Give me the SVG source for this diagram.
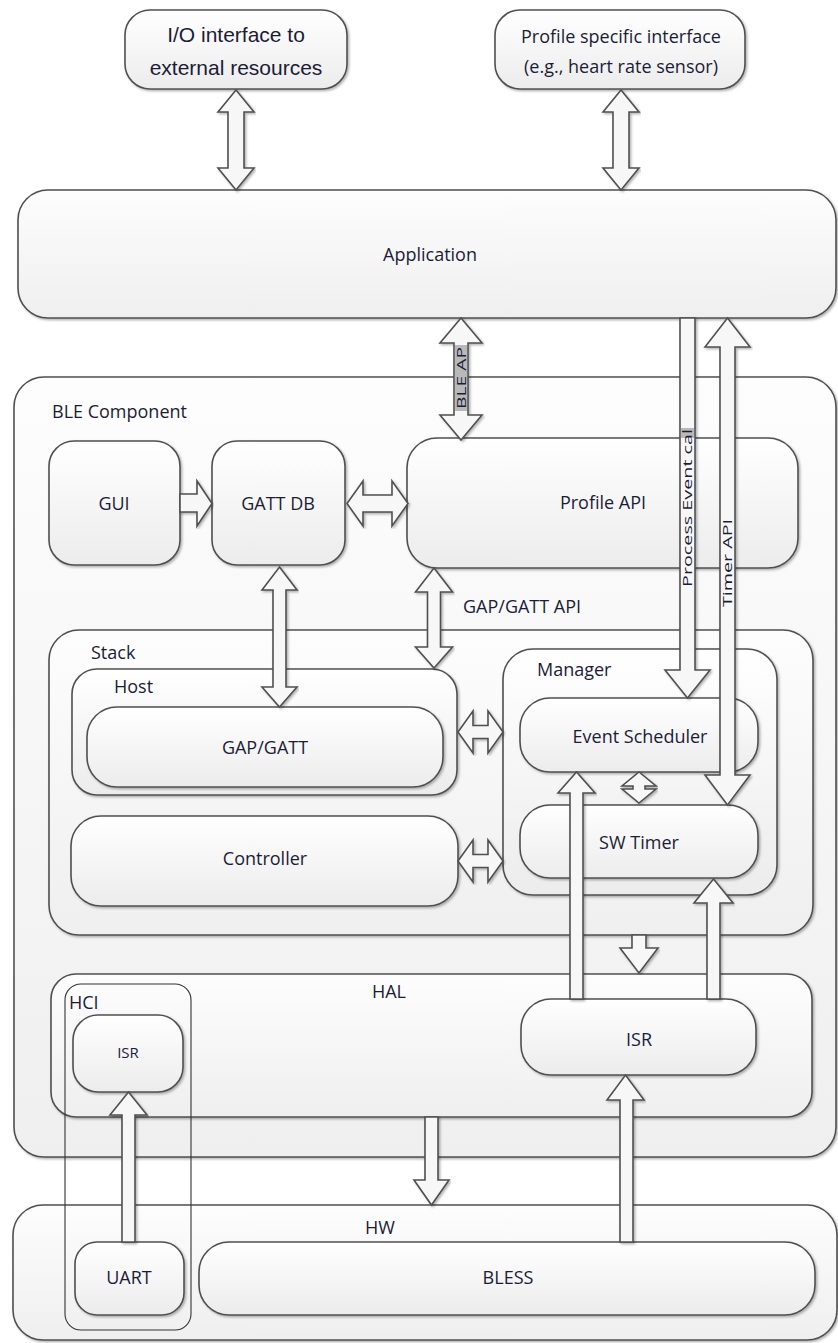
<svg xmlns="http://www.w3.org/2000/svg" width="838" height="1343" viewBox="0 0 838 1343">
<style>
.box{stroke:#505050;stroke-width:1.6;fill:url(#g1);filter:url(#sh)}
.big{stroke:#505050;stroke-width:1.6;fill:url(#g2);filter:url(#sh)}
.hci{fill:none;stroke:#333;stroke-width:1.1}
.arr{fill:#f7f7f7;stroke:#505050;stroke-width:1.6;stroke-linejoin:miter;filter:url(#sh)}
text{font-family:"Open Sans","Noto Sans",sans-serif;font-size:18px;fill:#1c1c38}
.c{text-anchor:middle}
.io{font-family:"Liberation Sans",Arial,sans-serif;font-size:21px}
.rot{font-size:12.5px}
</style>
<defs>
<linearGradient id="g1" x1="0" y1="0" x2="0" y2="1"><stop offset="0" stop-color="#ffffff"/><stop offset="1" stop-color="#ececec"/></linearGradient>
<linearGradient id="g2" x1="0" y1="0" x2="0" y2="1"><stop offset="0" stop-color="#fdfdfd"/><stop offset="1" stop-color="#efefef"/></linearGradient>
<filter id="sh" x="-5%" y="-5%" width="110%" height="110%"><feDropShadow dx="1.5" dy="1.5" stdDeviation="1" flood-color="#000" flood-opacity="0.3"/></filter>
</defs>
<rect width="838" height="1343" fill="#ffffff"/>

<g id="io_interface"><rect class="box" x="125" y="10" width="222" height="79" rx="25"/><text class="io c" x="236" y="42">I/O interface to</text><text class="io c" x="236" y="75">external resources</text></g>
<g id="profile_interface"><rect class="box" x="495" y="10" width="250" height="79" rx="25"/><text class="c" x="621" y="43">Profile specific interface</text><text class="c" x="621" y="73">(e.g., heart rate sensor)</text></g>
<g id="application"><rect class="big" x="18" y="190" width="818" height="128" rx="30"/><text class="c" x="430" y="261">Application</text></g>
<g id="ble_component"><rect class="big" x="14" y="377" width="822" height="780" rx="30"/><text x="52" y="418">BLE Component</text></g>
<g id="gui"><rect class="box" x="49" y="441" width="131" height="124" rx="25"/><text class="c" x="114" y="510">GUI</text></g>
<g id="gatt_db"><rect class="box" x="212" y="441" width="133" height="124" rx="25"/><text class="c" x="278" y="510">GATT DB</text></g>
<g id="profile_api"><rect class="box" x="407" y="438" width="391" height="130" rx="30"/><text class="c" x="603" y="509">Profile API</text></g>
<g id="stack"><rect class="big" x="49" y="630" width="764" height="305" rx="30"/><text x="91" y="659">Stack</text></g>
<g id="host"><rect class="box" x="72" y="669" width="385" height="126" rx="25"/><text x="114" y="693">Host</text></g>
<g id="gap_gatt"><rect class="box" x="87" y="707" width="356" height="80" rx="30"/><text class="c" x="265" y="754">GAP/GATT</text></g>
<g id="controller"><rect class="box" x="71" y="816" width="387" height="90" rx="30"/><text class="c" x="265" y="865">Controller</text></g>
<g id="manager"><rect class="box" x="503" y="649" width="274" height="246" rx="30"/><text x="537" y="676">Manager</text></g>
<g id="event_scheduler"><rect class="box" x="520" y="698" width="238" height="74" rx="30"/><text class="c" x="640" y="743">Event Scheduler</text></g>
<g id="sw_timer"><rect class="box" x="520" y="805" width="238" height="73" rx="30"/><text class="c" x="639" y="849">SW Timer</text></g>
<g id="hal"><rect class="big" x="51" y="974" width="761" height="143" rx="25"/><text class="c" x="389" y="998">HAL</text></g>
<g id="hci_isr"><rect class="box" x="73" y="1015" width="110" height="77" rx="25"/><text class="c" x="128" y="1058" style="font-size:15px">ISR</text></g>
<g id="isr"><rect class="box" x="521" y="999" width="235" height="76" rx="30"/><text class="c" x="639" y="1046">ISR</text></g>
<g id="hw"><rect class="big" x="13" y="1205" width="824" height="135" rx="30"/><text class="c" x="380" y="1234">HW</text></g>
<g id="uart"><rect class="box" x="75" y="1242" width="109" height="73" rx="22"/><text class="c" x="129" y="1284">UART</text></g>
<g id="bless"><rect class="box" x="199" y="1242" width="616" height="73" rx="30"/><text class="c" x="508" y="1284">BLESS</text></g>
<g id="hci"><rect class="hci" x="65" y="984" width="126" height="346" rx="16"/><text x="69" y="1009">HCI</text></g>

<g id="connectors">
<path class="arr" d="M236,90 L254,112 L244,112 L244,168 L254,168 L236,190 L218,168 L228,168 L228,112 L218,112 Z"/>
<path class="arr" d="M621,90 L639,112 L629,112 L629,168 L639,168 L621,190 L603,168 L613,168 L613,112 L603,112 Z"/>
<path class="arr" d="M461,318 L482,343 L468,343 L468,415 L482,415 L461,440 L440,415 L454,415 L454,343 L440,343 Z"/>
<rect x="455" y="345" width="12" height="66" fill="#b9b9b9"/>
<text class="rot c" transform="translate(465.5,378) rotate(-90)" textLength="62" lengthAdjust="spacingAndGlyphs">BLE AP</text>
<path class="arr" d="M680,318 L695,318 L695,670 L710,670 L687.5,698 L665,670 L680,670 Z"/>
<rect x="681" y="428" width="13" height="10" fill="#b9b9b9"/>
<text class="rot c" transform="translate(692,508) rotate(-90)" textLength="158" lengthAdjust="spacingAndGlyphs">Process Event cal</text>
<path class="arr" d="M727.5,318 L750,347 L735,347 L735,775 L750,775 L727.5,805 L705,775 L720,775 L720,347 L705,347 Z"/>
<text class="rot c" transform="translate(732,563) rotate(-90)" textLength="88" lengthAdjust="spacingAndGlyphs">Timer API</text>
<path class="arr" d="M180,494 L197,494 L197,481 L212,503.5 L197,526 L197,512 L180,512 Z"/>
<path class="arr" d="M347,503.5 L363,481 L363,495 L392,495 L392,481 L408,503.5 L392,526 L392,512 L363,512 L363,526 Z"/>
<path class="arr" d="M434,568 L452.5,592 L440.5,592 L440.5,647 L452.5,647 L434,668 L415.5,647 L427.5,647 L427.5,592 L415.5,592 Z"/>
<text x="463" y="613">GAP/GATT API</text>
<path class="arr" d="M279.5,567 L297,590 L286,590 L286,687 L297,687 L279.5,707 L262,687 L273,687 L273,590 L262,590 Z"/>
<path class="arr" d="M458,732 L473,711 L473,725.5 L488,725.5 L488,711 L503,732 L488,753 L488,738.5 L473,738.5 L473,753 Z"/>
<path class="arr" d="M458,861 L473,840 L473,854.5 L488,854.5 L488,840 L503,861 L488,882 L488,867.5 L473,867.5 L473,882 Z"/>
<path class="arr" d="M639,772 L656,786 L645,786 L645,789 L656,789 L639,803 L622,789 L633,789 L633,786 L622,786 Z"/>
<path class="arr" d="M570,999 L570,793 L558,793 L576.5,772 L595,793 L583,793 L583,999 Z"/>
<path class="arr" d="M707,999 L707,903 L694,903 L713.5,879 L733,903 L720,903 L720,999 Z"/>
<path class="arr" d="M632,935 L646,935 L646,948 L658,948 L639,973 L620,948 L632,948 Z"/>
<path class="arr" d="M425,1117 L438,1117 L438,1180 L449,1180 L431.5,1205 L414,1180 L425,1180 Z"/>
<path class="arr" d="M122,1242 L122,1115 L110,1115 L128.5,1092 L147,1115 L135,1115 L135,1242 Z"/>
<path class="arr" d="M620,1242 L620,1100 L607,1100 L625.5,1075 L644,1100 L633,1100 L633,1242 Z"/>
</g>
</svg>
